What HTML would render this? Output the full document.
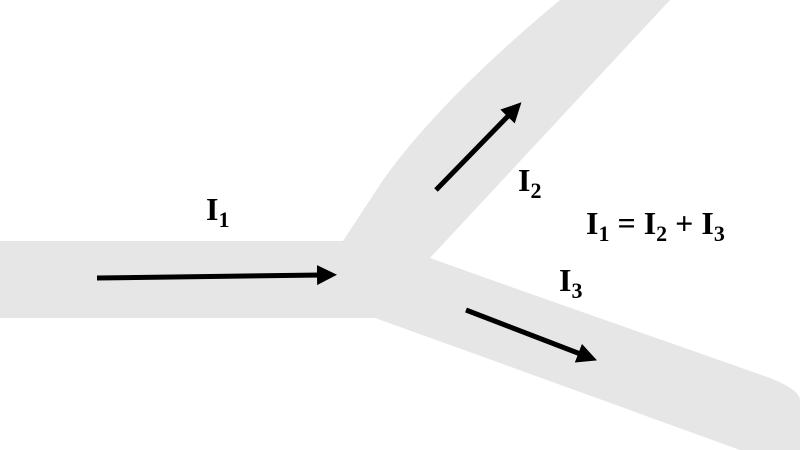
<!DOCTYPE html>
<html><head><meta charset="utf-8"><style>
html,body{margin:0;padding:0;background:#fff;}
svg{display:block}
text{font-family:"Liberation Serif",serif;font-weight:bold;fill:#000}
</style></head><body>
<svg width="800" height="450" viewBox="0 0 800 450">
<path d="M0 241 L343 241 L383 180 Q440 100 560 0 L670 0 L430 258 L500 283 L770 378 Q800 390 800 400 L800 450 L740 450 L500 363 L375 318 L0 318 Z" fill="#e6e6e6"/>
<defs><marker id="a" markerWidth="4" markerHeight="4" refX="1" refY="2" orient="auto" markerUnits="strokeWidth"><path d="M0 0 L4 2 L0 4 Z" fill="#000"/></marker></defs>
<g stroke="#000" stroke-width="5" fill="none">
<line x1="97" y1="278" x2="322" y2="275" marker-end="url(#a)"/>
<line x1="436" y1="190" x2="511" y2="113" marker-end="url(#a)"/>
<line x1="466" y1="310" x2="583" y2="355" marker-end="url(#a)"/>
</g>
<text x="206" y="220" font-size="32">I<tspan font-size="22" dy="7">1</tspan></text>
<text x="518" y="191" font-size="32">I<tspan font-size="22" dy="7">2</tspan></text>
<text x="559" y="291" font-size="32">I<tspan font-size="22" dy="7">3</tspan></text>
<text x="586" y="234" font-size="32">I<tspan font-size="22" dy="7">1</tspan><tspan dy="-7"> = I</tspan><tspan font-size="22" dy="7">2</tspan><tspan dy="-7"> + I</tspan><tspan font-size="22" dy="7">3</tspan></text>
</svg>
</body></html>
